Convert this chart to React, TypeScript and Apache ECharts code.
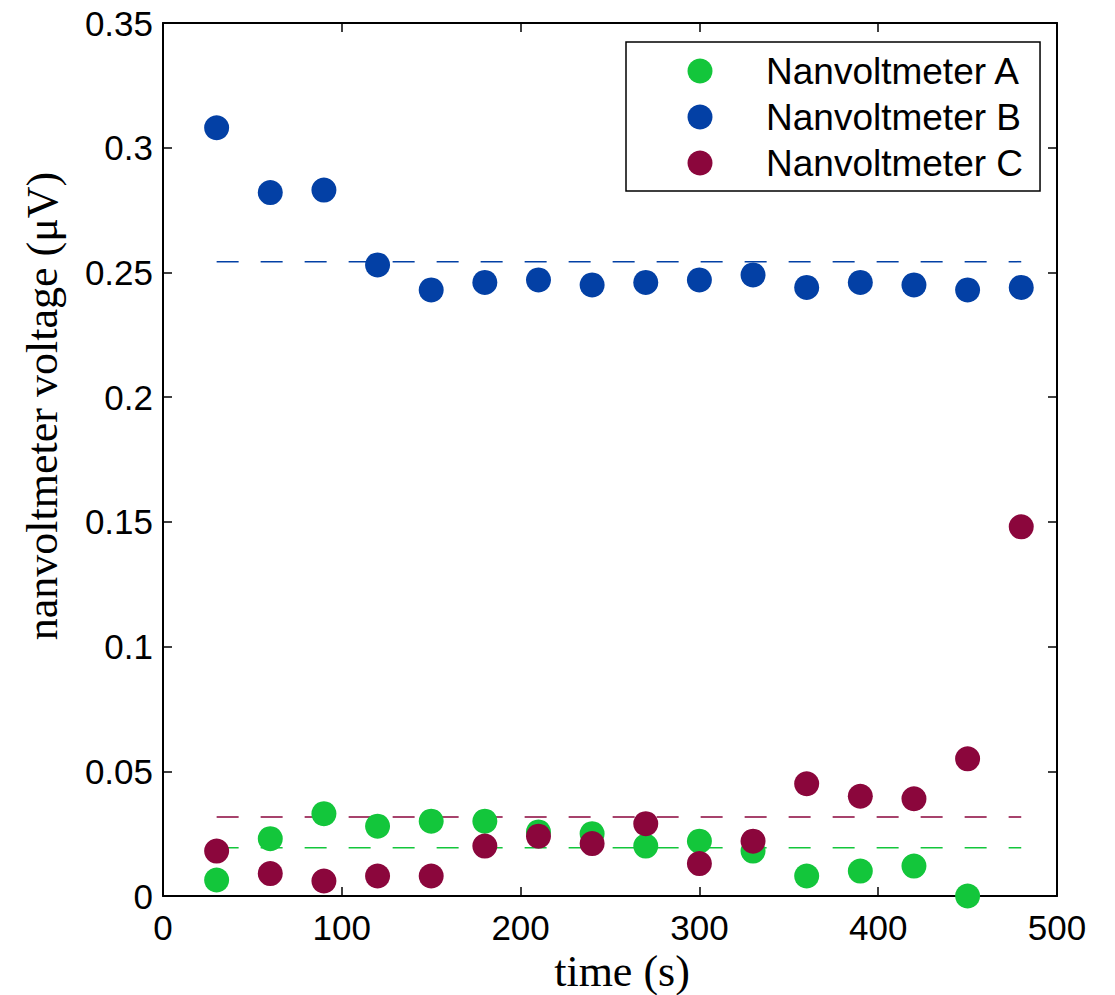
import React, { useEffect, useRef } from "react";
import * as echarts from "echarts";

const timesA = [30, 60, 90, 120, 150, 180, 210, 240, 270, 300, 330, 360, 390, 420, 450];
const times = [30, 60, 90, 120, 150, 180, 210, 240, 270, 300, 330, 360, 390, 420, 450, 480];
const voltA = [0.0064, 0.023, 0.033, 0.028, 0.030, 0.030, 0.0257, 0.025, 0.020, 0.022, 0.018, 0.008, 0.010, 0.012, 0.0];
const voltB = [0.308, 0.282, 0.283, 0.253, 0.243, 0.246, 0.247, 0.245, 0.246, 0.247, 0.249, 0.244, 0.246, 0.245, 0.243, 0.244];
const voltC = [0.018, 0.009, 0.006, 0.008, 0.008, 0.020, 0.024, 0.021, 0.029, 0.013, 0.022, 0.045, 0.040, 0.039, 0.055, 0.148];
const meanA = 0.0193;
const meanB = 0.2543;
const meanC = 0.0317;
const meanRange = [30, 480];
const names = ["Nanvoltmeter A", "Nanvoltmeter B", "Nanvoltmeter C"];
const colors = ["#13c63b", "#0340a5", "#8b063c"];
const xTicks = { min: 0, max: 500, interval: 100 };
const yTicks = { min: 0, max: 0.35, interval: 0.05 };
const xTitle = "time (s)";
const yTitle = "nanvoltmeter voltage (μV)";

const pair = (xs: number[], ys: number[]) => xs.map((x, i) => [x, ys[i]]);

export default function App() {
  const ref = useRef<HTMLDivElement>(null);
  useEffect(() => {
    document.body.style.margin = "0";
    document.body.style.overflow = "hidden";
    document.documentElement.style.overflow = "hidden";
    const chart = echarts.init(ref.current!, null, { renderer: "svg", width: 1115, height: 995 });
    const axisLine = { show: true, onZero: false, lineStyle: { color: "#000", width: 2 } };
    const tick = { show: true, inside: true, length: 9, lineStyle: { color: "#000", width: 1.5 } };
    const labelFont = { fontSize: 35, color: "#000", fontFamily: "Liberation Sans, Arial, sans-serif" };
    const serif = "Liberation Serif, Times New Roman, serif";
    const meanLine = (m: number, c: string) => ({
      type: "line",
      data: meanRange.map((x) => [x, m]),
      showSymbol: false,
      symbol: "none",
      silent: true,
      xAxisIndex: 0,
      yAxisIndex: 0,
      z: 1,
      lineStyle: { color: c, width: 1.5, type: [22, 22] },
    });
    const scatter = (name: string, data: number[][], c: string) => ({
      type: "scatter",
      name,
      data,
      symbol: "circle",
      symbolSize: 25,
      xAxisIndex: 0,
      yAxisIndex: 0,
      z: 3,
      itemStyle: { color: c, opacity: 1 },
    });
    chart.setOption({
      animation: false,
      backgroundColor: "#fff",
      grid: { left: 163, top: 23, width: 894, height: 873, containLabel: false, outerBoundsMode: "none" },
      xAxis: [
        {
          type: "value",
          position: "bottom",
          ...xTicks,
          axisLine,
          axisTick: tick,
          splitLine: { show: false },
          axisLabel: { ...labelFont, margin: 14 },
          name: xTitle,
          nameLocation: "middle",
          nameGap: 52,
          nameTextStyle: { fontSize: 44, color: "#000", fontFamily: serif, padding: [0, 0, 0, 24] },
        },
        {
          type: "value",
          position: "top",
          ...xTicks,
          axisLine,
          axisTick: tick,
          splitLine: { show: false },
          axisLabel: { show: false },
        },
      ],
      yAxis: [
        {
          type: "value",
          position: "left",
          ...yTicks,
          axisLine,
          axisTick: tick,
          splitLine: { show: false },
          axisLabel: { ...labelFont, margin: 10 },
        },
        {
          type: "value",
          position: "right",
          ...yTicks,
          axisLine,
          axisTick: tick,
          splitLine: { show: false },
          axisLabel: { show: false },
        },
      ],
      graphic: [
        {
          type: "text",
          x: 42,
          y: 406,
          rotation: Math.PI / 2,
          style: {
            text: yTitle,
            font: `44px ${serif}`,
            fill: "#000",
            textAlign: "center",
            textVerticalAlign: "middle",
          },
        },
      ],
      legend: {
        data: names,
        orient: "vertical",
        left: 626,
        top: 42,
        itemWidth: 25,
        itemHeight: 25,
        itemGap: 6,
        icon: "circle",
        padding: [9, 17, 8, 61.5],
        borderColor: "#000",
        borderWidth: 1.5,
        backgroundColor: "#fff",
        textStyle: {
          fontSize: 37,
          lineHeight: 40,
          color: "#000",
          fontFamily: "Liberation Sans, Arial, sans-serif",
          padding: [0, 0, 0, 48.5],
        },
      },
      series: [
        meanLine(meanA, colors[0]),
        meanLine(meanB, colors[1]),
        meanLine(meanC, colors[2]),
        scatter(names[0], pair(timesA, voltA), colors[0]),
        scatter(names[1], pair(times, voltB), colors[1]),
        scatter(names[2], pair(times, voltC), colors[2]),
      ],
    });
    return () => chart.dispose();
  }, []);
  return (
    <div
      ref={ref}
      style={{ position: "fixed", left: 0, top: 0, width: 1115, height: 995, overflow: "hidden", background: "#fff" }}
    />
  );
}
